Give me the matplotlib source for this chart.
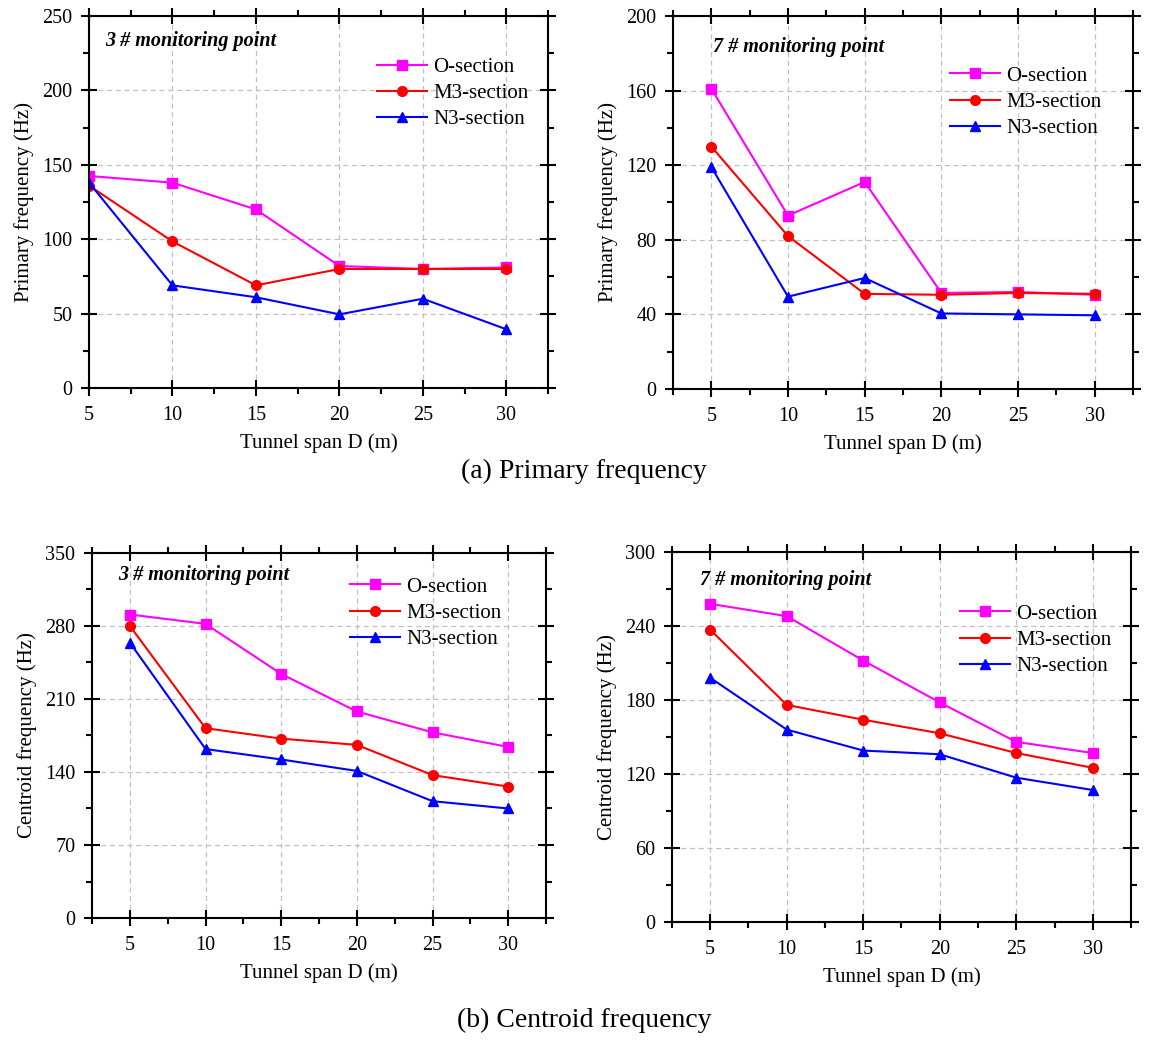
import matplotlib
matplotlib.use("Agg")
import matplotlib.pyplot as plt
from matplotlib.ticker import MultipleLocator

plt.rcParams['font.family'] = ['Liberation Serif', 'DejaVu Serif']
plt.rcParams['mathtext.fontset'] = 'stix'

# data
span = [5, 10, 15, 20, 25, 30]
labels = ['O-section', 'M3-section', 'N3-section']

# (a) primary frequency
prim_3_O = [142.5, 138, 120, 82, 80, 81]
prim_3_M = [136, 98.5, 69, 80, 80, 80]
prim_3_N = [138, 69, 61, 49.5, 60, 39.5]

prim_7_O = [161, 93, 111, 51.5, 52, 50.5]
prim_7_M = [130, 82, 51, 50.5, 51.5, 51]
prim_7_N = [119, 49.5, 59.5, 40.5, 40, 39.5]

# (b) centroid frequency
cent_3_O = [291, 282, 234, 198, 178, 164]
cent_3_M = [280, 182, 172, 166, 137, 126]
cent_3_N = [264, 162, 152, 141, 112, 105]

cent_7_O = [258, 248, 212, 178, 146, 137]
cent_7_M = [237, 176, 164, 153, 137, 125]
cent_7_N = [198, 156, 139, 136, 117, 107]

colors = ['#FF00FF', '#FF0000', '#0000FF']
markers = ['s', 'o', '^']

fig = plt.figure(figsize=(11.52, 10.4), dpi=100)


def panel(rect, series, ylabel, ymax, ystep, xmin, title, title_xy, leg_xy):
    ax = fig.add_axes(rect)
    for vals, c, m, lab in zip(series, colors, markers, labels):
        ax.plot(span, vals, color=c, marker=m, markersize=7, linewidth=1.5, label=lab)
    ax.set_xlim(xmin, 32.5)
    ax.set_ylim(0, ymax)
    ax.xaxis.set_major_locator(MultipleLocator(5))
    ax.xaxis.set_minor_locator(MultipleLocator(2.5))
    ax.yaxis.set_major_locator(MultipleLocator(ystep))
    ax.yaxis.set_minor_locator(MultipleLocator(ystep / 2))
    ax.set_xticks(span)
    ax.tick_params(which='both', top=True, right=True, labelsize=14.5, width=1.5)
    ax.tick_params(which='major', direction='inout', length=12)
    ax.tick_params(which='minor', direction='out', length=4)
    ax.tick_params(axis='y', which='major', pad=6)
    ax.tick_params(axis='x', which='major', pad=7)
    for s in ax.spines.values():
        s.set_linewidth(1.5)
    ax.grid(True, which='major', linestyle=(0, (4, 3)), color='#c0c0c0', linewidth=0.9)
    ax.set_axisbelow(True)
    ax.set_xlabel('Tunnel span D (m)', fontsize=15, labelpad=6)
    ax.set_ylabel(ylabel, fontsize=15, labelpad=6)
    ax.text(title_xy[0], title_xy[1], title, transform=ax.transAxes,
            fontsize=14.5, fontweight='bold', fontstyle='italic', va='center', ha='left')
    ax.legend(loc='upper left', bbox_to_anchor=leg_xy, frameon=False, fontsize=15,
              handlelength=2.4, handletextpad=0.3, labelspacing=0.32, borderpad=0,
              borderaxespad=0)
    return ax


panel([0.0773, 0.6269, 0.3984, 0.3577], [prim_3_O, prim_3_M, prim_3_N],
      'Primary frequency (Hz)', 250, 50, 5, '3 # monitoring point',
      (0.035, 0.933), (0.627, 0.889))
panel([0.5842, 0.626, 0.3993, 0.3586], [prim_7_O, prim_7_M, prim_7_N],
      'Primary frequency (Hz)', 200, 40, 2.5, '7 # monitoring point',
      (0.087, 0.917), (0.602, 0.866))
panel([0.0799, 0.1173, 0.3941, 0.351], [cent_3_O, cent_3_M, cent_3_N],
      'Centroid frequency (Hz)', 350, 70, 2.5, '3 # monitoring point',
      (0.057, 0.94), (0.568, 0.934))
panel([0.5833, 0.1135, 0.3985, 0.3557], [cent_7_O, cent_7_M, cent_7_N],
      'Centroid frequency (Hz)', 300, 60, 2.5, '7 # monitoring point',
      (0.061, 0.924), (0.627, 0.859))

fig.text(0.507, 0.547, '(a) Primary frequency', fontsize=20, ha='center', va='center')
fig.text(0.507, 0.019, '(b) Centroid frequency', fontsize=20, ha='center', va='center')

fig.savefig('out.png', dpi=100)
